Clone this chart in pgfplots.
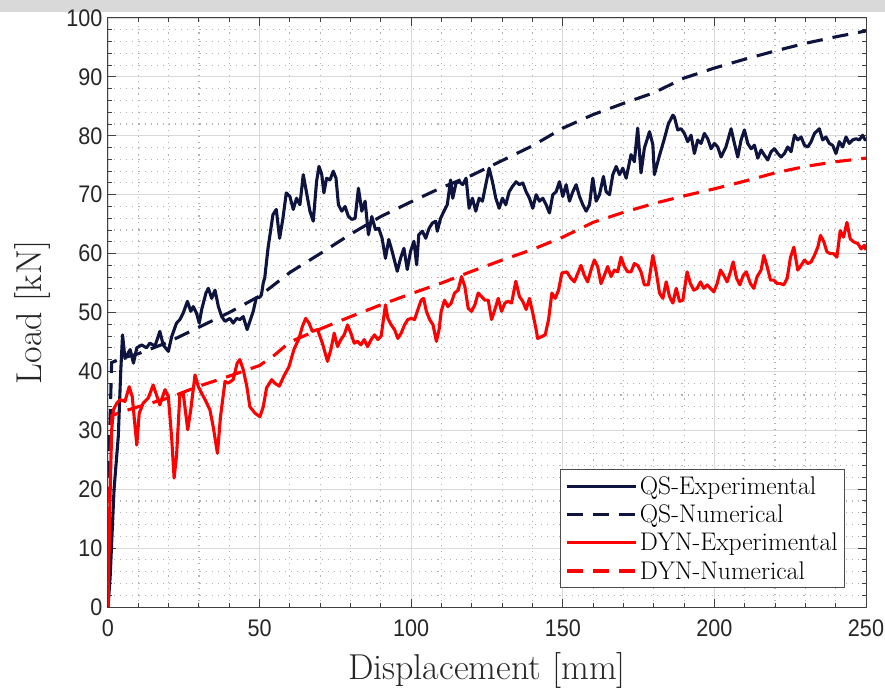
\documentclass[border=0pt]{standalone}
\usepackage{fontspec}
\usepackage{pgfplots}
\pgfplotsset{compat=1.18}
\newfontfamily\tickfont[FakeStretch=0.9]{Liberation Sans}
\definecolor{navyc}{RGB}{14,20,62}
\definecolor{redc}{RGB}{255,0,0}
\begin{document}
\begin{tikzpicture}
\useasboundingbox (-108bp,-84bp) rectangle (777bp,607bp);
\fill[black!15] (-108bp,595bp) rectangle (777bp,607bp);
\begin{axis}[
  at={(0,0)}, anchor=south west,
  scale only axis, width=758bp, height=589bp,
  xmin=0, xmax=250, ymin=0, ymax=100,
  xtick={0,50,...,250}, ytick={0,10,...,100},
  minor x tick num=4, minor y tick num=4,
  grid=both,
  major grid style={line width=0.9bp, draw=black!15},
  minor grid style={line width=1.1bp, draw=black!30, dash pattern=on 1.1bp off 5bp},
  axis line style={draw=black!75, line width=1bp},
  tick style={draw=black!75, line width=1bp},
  major tick length=8bp, minor tick length=4bp,
  tick align=inside,
  /pgf/number format/assume math mode=true,
  ticklabel style={font=\tickfont\fontsize{24bp}{27bp}\selectfont, text=black!85},
  xticklabel style={yshift=-9bp},
  yticklabel style={xshift=-2bp},
  xlabel={Displacement [mm]}, ylabel={Load [kN]},
  label style={font=\fontsize{36bp}{40bp}\selectfont, text=black!85},
  xlabel style={at={(axis description cs:0.5,-0.1239)}, anchor=base},
  ylabel style={at={(axis description cs:-0.0871,0.5)}, anchor=base, rotate=0},
  legend style={at={(axis description cs:0.9723,0.0323)}, anchor=south east,
    draw=black!70, line width=0.8bp, fill=white,
    font=\fontsize{25.5bp}{28bp}\selectfont, inner sep=5bp, row sep=5bp},
  legend cell align=left,
  legend image code/.code={\draw[#1] (0bp,0bp) -- (69bp,0bp);},
]
% QS-Experimental
\addplot[navyc, line width=3.1bp, line join=round] coordinates {
(0,0) (0.7,5) (2,20) (3.4,29) (4.2,40) (4.8,46.2) (5.6,42.2) (7.3,43.7) (8.4,41.4) (9.5,44)
(11.1,44.5) (12.7,44) (13.8,44.8) (15.5,44.3) (17.1,46.8) (18.2,44.5) (19.9,43.4) (21,45.9)
(22.6,48.2) (23.7,48.8) (24.8,49.9) (26.2,51.9) (27.3,50.2) (28.1,51) (29.2,49.9) (30.1,48.2)
(30.9,50.5) (32.3,53.3) (33.1,54.1) (34.2,52.4) (35.3,53.8) (36.4,51) (37.5,49.3) (38.6,48.5)
(40.2,49) (41.3,48.2) (42.4,49) (43.5,48.8) (44.6,49.3) (45.9,47.1) (46.8,48.5) (47.9,50.2)
(48.9,52.5) (50.1,52.6) (50.6,53) (51.2,55) (51.7,55.9) (52.8,61) (54.4,66.6) (55.5,67.5)
(56.6,62.6) (57.7,66) (58.8,70.3) (60,69.7) (61.1,67.5) (62.2,69.4) (63.3,68.3) (64.4,73.4)
(65.5,70.3) (66.6,67.2) (67.7,65.5) (68.8,72.3) (69.6,74.8) (70.5,73.4) (71.2,70.3) (72.1,72.8)
(73.2,72.5) (74.3,74) (75.2,72.8) (76,68.3) (77.1,67.2) (78.2,68) (79.3,66.3) (80.4,65.8)
(81.5,66) (82.6,71.1) (83.7,67.2) (84.8,68.9) (85.9,63.2) (87,66.3) (88.2,64.1) (89.3,64.3)
(90.4,62.6) (91.5,59.2) (92.6,62.4) (93.7,60.4) (95.4,57) (96.5,59.2) (97.6,60.9) (98.7,57.3)
(99.8,60.4) (100.9,62.1) (101.8,58.1) (102.5,63.2) (103.7,63.8) (104.8,62.6) (105.9,64.3)
(107,65.2) (108.1,65.5) (108.6,63.8) (109.7,66) (110.8,67.2) (111.9,68.3) (113,72.5)
(113.7,69.4) (114.8,72) (115.9,72.2) (117,71.7) (118.1,72.8) (119.1,67.7) (120.2,69.4)
(121.3,67.2) (122.4,69.4) (123.5,68.9) (124.6,71.7) (125.7,74.5) (126.8,72.2) (127.9,69.4)
(129,67.7) (130.1,69.4) (131.2,68.3) (132.3,70.5) (133.4,71.4) (134.6,72.2) (135.7,71.7)
(136.8,72) (137.9,70.5) (139,69.4) (140.1,67.7) (141.2,70) (142.3,68.9) (143.4,69.4)
(144.5,68.3) (145.6,66.9) (146.7,70) (147.8,70.5) (148.9,72.2) (150,69.7) (151.1,71.7)
(152.2,68.9) (153.3,70.5) (154.4,71.7) (155.5,69.7) (156.6,68.3) (157.7,67.2) (158.8,68.3)
(159.9,72.8) (161,68.9) (162.1,70) (163.4,73.1) (164.3,70.5) (165.4,70) (166.5,73.4)
(167.6,74.8) (168.7,73.4) (169.8,74.5) (170.9,72.8) (172.5,76.8) (173.6,75.6) (174.7,81.3)
(175.8,73.7) (176.9,77.9) (178.6,80.7) (179.7,78.5) (180.2,73.4) (181.8,76.5) (183.5,79.5)
(184.8,82) (186.3,83.5) (186.8,83.2) (187.9,81) (189,81.2) (190.1,80.4) (191.2,79) (192.3,80.1)
(193.4,77) (194.5,79.3) (195.6,78.7) (196.7,80.4) (197.8,79.5) (198.9,77.8) (200,78.7)
(201.1,78.1) (202.2,76.4) (203.8,78.1) (205.5,81.2) (206.6,78.7) (207.7,76.4) (208.8,79.3)
(209.9,81) (211,78.7) (212.1,77.8) (213.2,78.4) (214.3,76.2) (215.4,77.6) (216.5,76.7)
(217.6,75.9) (218.7,77.3) (219.8,77.8) (220.9,77) (222,76.4) (223.1,77) (224.2,78.1)
(225.3,77.3) (226.4,80.1) (227.5,79.3) (228.6,79.8) (229.7,78.4) (230.8,78.1) (231.9,79)
(233,80.4) (234.6,81.2) (235.7,79.3) (236.8,79.8) (237.9,78.7) (239,78.4) (240.1,77)
(241.2,79) (242.3,78.1) (243.4,79.8) (244.5,78.7) (245.6,79.3) (246.7,79.5) (247.8,79.3)
(248.9,80.1) (249.7,79.3) (250,79.5)
};
\addlegendentry{QS-Experimental}
% QS-Numerical
\addplot[navyc, line width=3.1bp, dash pattern=on 16bp off 10bp] coordinates {
(0,0) (0.6,30) (1.2,41.5) (5,42.3) (10,43) (20,45) (30,47.5) (40,50) (50,52.8) (60,56.8)
(70,60) (80,63.3) (90,66.3) (100,68.8) (110,71.2) (120,73.3) (130,75.8) (140,78.3) (150,81.3)
(160,83.6) (170,85.5) (180,87.3) (190,89.8) (200,91.5) (210,93) (220,94.4) (230,95.7)
(240,96.8) (250,97.8)
};
\addlegendentry{QS-Numerical}
% DYN-Experimental
\addplot[redc, line width=3.1bp, line join=round] coordinates {
(0,0) (0.5,15) (1.2,30) (1.8,33.5) (2.9,34.6) (4,35.2) (5.6,34.9) (7,37.4) (8,35.7) (9.5,27.5)
(10.3,32.9) (11.6,34.6) (13.3,35.5) (14.9,37.7) (16,36) (17.1,34.3) (18.8,36.9) (19.9,35.7)
(21,28.7) (21.8,21.9) (22.6,25.6) (23.7,36) (24.8,36.3) (26.3,30.1) (27.3,33.5) (28.7,39.4)
(29.8,37.4) (30.9,36.3) (32.3,34.9) (33.6,33.5) (34.7,30.6) (36.1,26.1) (37.1,32.3) (38.6,38.3)
(39.6,38) (41.3,38.6) (42.6,41.4) (43.5,42) (44.6,40.3) (45.8,37.4) (46.8,34) (48.5,32.9)
(50.1,32.3) (51.2,34) (52.3,37.2) (54,38.6) (55,38) (56.5,37.5) (58,39.2) (59.7,40.8)
(61.3,43.7) (63,45.6) (64.1,47.6) (65.2,49) (66.3,48.2) (67.4,46.8) (69.1,47.1) (70.7,44.8)
(72.4,41.7) (73.5,43.7) (74.6,46.5) (75.7,44.2) (76.8,45.4) (77.9,46.2) (79,47.9) (80.1,46.5)
(81.2,44.8) (82.3,45.1) (83.4,44.5) (84.5,45.4) (85.6,44.2) (86.8,45.4) (87.9,46.2) (89,45.4)
(90.1,46) (91.5,51.3) (92.3,49) (93.4,47.9) (94.5,47.1) (95.6,45.6) (96.7,46.5) (97.8,47.9)
(98.9,48.8) (100,49) (101.1,48.8) (102.2,50.5) (103.3,52.1) (104.1,52.4) (105,50.2) (106.1,48.8)
(107.2,47.9) (108.3,45.1) (109.2,47.1) (109.9,50.2) (111,52.1) (112.1,51) (113.2,51.6)
(114.3,53.3) (115.5,53.8) (116.6,56.1) (117.7,54.4) (118.8,50.7) (119.9,50.2) (121,51.3)
(122.1,53.3) (123.2,52.7) (124.3,52.1) (125.4,52.1) (126.5,48.8) (127.6,50.5) (128.7,52.4)
(129.8,50.2) (130.9,51.6) (132,51.9) (133.1,51.6) (134.5,55.3) (135.7,52.7) (136.8,51.9)
(137.9,50.5) (139,52.4) (140.1,49.9) (141.2,47.1) (141.7,45.6) (143,45.9) (144.2,46.2)
(145.3,48.8) (146.4,53.3) (147.5,52.4) (148.6,53.8) (149.7,56.7) (151.3,56.9) (152.7,55.8)
(153.8,55.2) (154.9,56.6) (156,58) (157.1,56.3) (158.2,55.2) (159.3,57.2) (160.4,58.9)
(161.5,57.8) (162.6,54.9) (163.7,56.3) (164.8,57.8) (165.9,56.1) (167,57.2) (168.1,56.9)
(169.2,59.4) (170.3,57.8) (171.4,56.9) (172.5,56.9) (173.6,58.3) (174.7,58) (175.8,56.9)
(176.9,54.7) (178.2,54.7) (179.7,59.7) (180.8,56.9) (181.9,53.3) (183,52.4) (184.1,55.2)
(185.2,52.7) (186.3,51.6) (187.4,54.1) (188.5,51.9) (189.6,52.1) (191,56.9) (192.1,54.9)
(193.2,53.8) (194.3,54.1) (195.4,55.2) (196.5,54.1) (197.6,54.7) (198.7,54.1) (199.8,53.5)
(200.9,54.9) (202,57.2) (203.1,56.3) (204.2,55.2) (205.3,56.9) (206.2,58.6) (207.3,55.8)
(208.4,54.7) (209.5,56.3) (210.5,56.9) (211.9,54.9) (213,54.1) (214.1,56.1) (215.4,57.2)
(216.3,59.7) (217.4,57.8) (218.5,55.5) (219.6,55.5) (220.7,54.9) (221.8,54.9) (222.9,54.7)
(224,55.8) (225.1,59.4) (226.2,61.1) (227.5,57.2) (228.6,58) (229.7,58.9) (230.8,58.3)
(231.9,58.6) (233,59.7) (234.1,61.1) (235,63.1) (236.1,62) (237.1,60.3) (238.2,60) (239.3,60)
(240.4,59.4) (241.5,63.9) (242.6,62.8) (243.7,65.3) (244.8,62.5) (245.9,62) (247.3,61.7)
(248.4,60.8) (249.5,61.4) (250,60.6)
};
\addlegendentry{DYN-Experimental}
% DYN-Numerical
\addplot[redc, line width=3.1bp, dash pattern=on 16bp off 10bp] coordinates {
(0,0) (0.6,20) (1.3,32.5) (5,33.2) (10,34) (20,35.5) (30,37.5) (40,39.2) (50,41) (55,42.8)
(60,45) (70,47.2) (80,49.3) (90,51.3) (100,53.2) (110,55) (120,57) (130,58.9) (140,60.7)
(150,62.8) (160,65.3) (170,67) (180,68.5) (190,69.8) (200,71) (210,72.3) (220,73.7)
(230,74.8) (240,75.6) (250,76.2)
};
\addlegendentry{DYN-Numerical}
\end{axis}
\end{tikzpicture}
\end{document}
